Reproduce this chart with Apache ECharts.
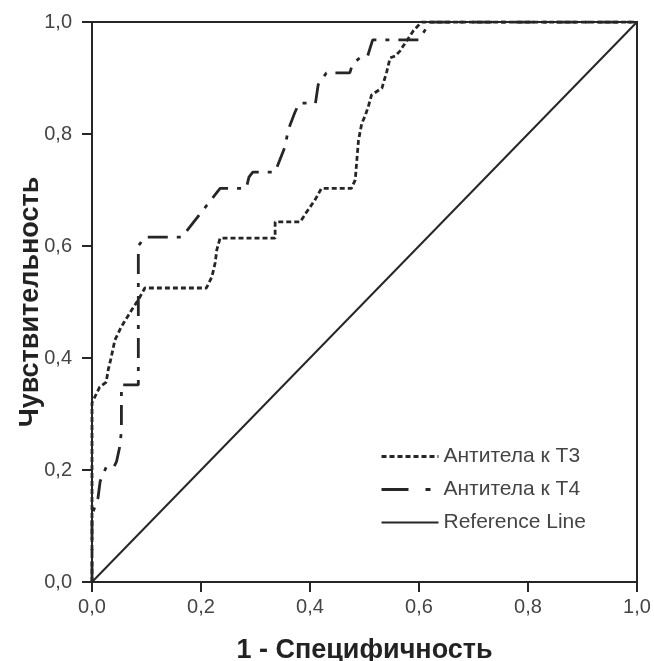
<!DOCTYPE html>
<html>
<head>
<meta charset="utf-8">
<script src="https://cdn.jsdelivr.net/npm/echarts@6/dist/echarts.min.js"></script>
<style>
  html, body { margin: 0; padding: 0; background: #fff; }
  #chart { width: 654px; height: 661px; }
</style>
</head>
<body>
<div id="chart"></div>
<script>
// ROC: Антитела к Т3 (пунктир)
var t3X = [0, 0, 0.014, 0.026, 0.03, 0.035, 0.042, 0.054, 0.073, 0.085, 0.097, 0.21, 0.22, 0.226, 0.229, 0.235, 0.336, 0.336, 0.382, 0.394, 0.409, 0.421, 0.476, 0.483, 0.486, 0.489, 0.495, 0.501, 0.507, 0.513, 0.532, 0.541, 0.547, 0.556, 0.565, 0.571, 0.58, 0.59, 0.605, 1.0]
var t3Y = [0, 0.32, 0.348, 0.357, 0.38, 0.40, 0.432, 0.456, 0.486, 0.504, 0.525, 0.525, 0.545, 0.57, 0.593, 0.614, 0.614, 0.643, 0.643, 0.661, 0.682, 0.703, 0.703, 0.718, 0.754, 0.789, 0.819, 0.832, 0.849, 0.870, 0.882, 0.912, 0.936, 0.939, 0.948, 0.957, 0.970, 0.985, 1.0, 1.0]

// ROC: Антитела к Т4 (штрих-пунктир)
var t4X = [0, 0, 0.011, 0.015, 0.026, 0.04, 0.045, 0.051, 0.054, 0.054, 0.085, 0.085, 0.097, 0.165, 0.235, 0.283, 0.288, 0.295, 0.336, 0.354, 0.36, 0.372, 0.38, 0.41, 0.415, 0.43, 0.473, 0.478, 0.495, 0.506, 0.515, 0.60, 0.617, 0.62, 1.0]
var t4Y = [0, 0.12, 0.15, 0.18, 0.205, 0.205, 0.215, 0.242, 0.27, 0.352, 0.352, 0.60, 0.616, 0.616, 0.703, 0.703, 0.723, 0.732, 0.732, 0.777, 0.807, 0.838, 0.855, 0.855, 0.888, 0.909, 0.909, 0.925, 0.939, 0.94, 0.968, 0.968, 0.995, 1.0, 1.0]

var refX = [0, 1]
var refY = [0, 1]

var tickLabels = ['0,0', '0,2', '0,4', '0,6', '0,8', '1,0']

function pairs(xs, ys) {
  var out = []
  for (var i = 0; i < xs.length; i++) out.push([xs[i], ys[i]])
  return out
}

var mychart = echarts.init(document.getElementById('chart'))
var lineColor = '#262626'
var font = 'Liberation Sans, Arial, sans-serif'

var option = {
  animation: false,
  backgroundColor: '#fff',
  grid: {
    left: 92,
    right: 17,
    top: 22,
    bottom: 79,
    outerBoundsMode: 'none',
    show: true,
    borderColor: lineColor,
    borderWidth: 2
  },
  legend: {
    orient: 'vertical',
    left: 375,
    top: 441,
    itemWidth: 57,
    itemHeight: 14,
    itemGap: 12,
    itemStyle: { opacity: 0 },
    textStyle: { fontFamily: font, fontSize: 21, color: '#444' },
    data: [
      { name: 'Антитела к Т3', lineStyle: { width: 2.8, type: [5, 3] } },
      { name: 'Антитела к Т4', lineStyle: { width: 3, type: [27, 17, 5, 20] } },
      { name: 'Reference Line', lineStyle: { width: 2 } }
    ]
  },
  xAxis: {
    type: 'value',
    min: 0,
    max: 1,
    interval: 0.2,
    name: '1 - Специфичность',
    nameLocation: 'middle',
    nameGap: 55,
    nameMoveOverlap: false,
    nameTextStyle: { fontFamily: font, fontSize: 27, fontWeight: 'bold', color: '#222' },
    axisLine: { lineStyle: { color: lineColor, width: 2 } },
    axisTick: { length: 10, lineStyle: { color: lineColor, width: 2 } },
    axisLabel: {
      margin: 15,
      fontFamily: font,
      fontSize: 20,
      color: '#444',
      formatter: function (v) { return tickLabels[Math.round(v * 5)] }
    },
    splitLine: { show: false }
  },
  yAxis: {
    type: 'value',
    min: 0,
    max: 1,
    interval: 0.2,
    name: 'Чувствительность',
    nameLocation: 'middle',
    nameGap: 48,
    nameMoveOverlap: false,
    nameTextStyle: { fontFamily: font, fontSize: 27, fontWeight: 'bold', color: '#222' },
    axisLine: { lineStyle: { color: lineColor, width: 2 } },
    axisTick: { length: 10, lineStyle: { color: lineColor, width: 2 } },
    axisLabel: {
      margin: 20,
      fontFamily: font,
      fontSize: 20,
      color: '#444',
      formatter: function (v) { return tickLabels[Math.round(v * 5)] }
    },
    splitLine: { show: false }
  },
  series: [
    {
      name: 'Антитела к Т3',
      type: 'line',
      symbol: 'none',
      data: pairs(t3X, t3Y),
      lineStyle: { color: lineColor, width: 2.8, type: [5, 3] },
      itemStyle: { color: lineColor }
    },
    {
      name: 'Антитела к Т4',
      type: 'line',
      symbol: 'none',
      data: pairs(t4X, t4Y),
      lineStyle: { color: lineColor, width: 2.8, type: [20, 9, 4, 9] },
      itemStyle: { color: lineColor }
    },
    {
      name: 'Reference Line',
      type: 'line',
      symbol: 'none',
      data: pairs(refX, refY),
      lineStyle: { color: lineColor, width: 2 },
      itemStyle: { color: lineColor }
    }
  ]
}
mychart.setOption(option)
</script>
</body>
</html>
